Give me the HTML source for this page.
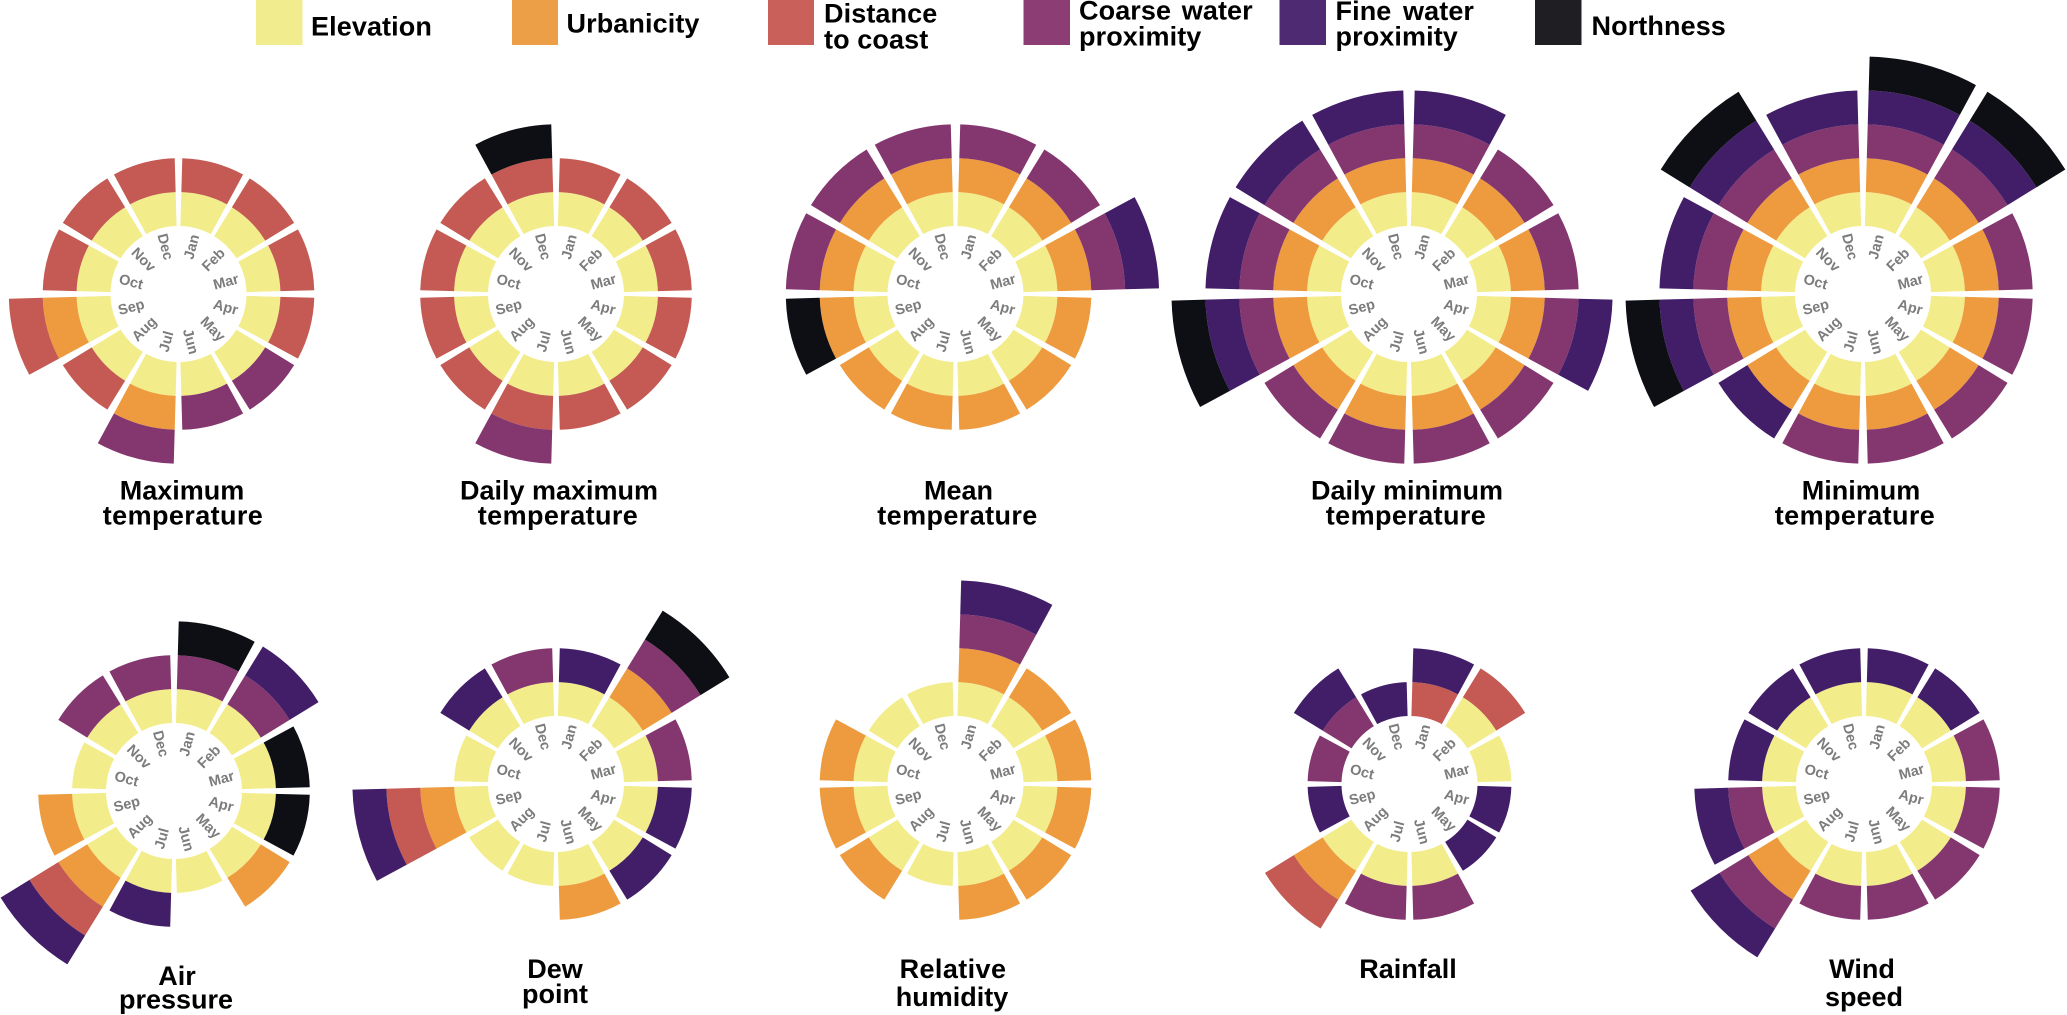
<!DOCTYPE html>
<html lang="en">
<head>
<meta charset="utf-8">
<title>Monthly climate factor rose charts</title>
<style>
  html, body { margin: 0; padding: 0; background: #fff; }
  svg { display: block; }
  text { font-family: "Liberation Sans", Arial, sans-serif; font-weight: 700; }
  .legend-text, .title-text { font-size: 27px; fill: #000; }
  .legend-text { letter-spacing: 0.1px; }
  .wide-line { letter-spacing: 0.4px; }
  .month-text { font-size: 14.5px; fill: #7c7c7c; }
</style>
</head>
<body>
<svg id="figure" xmlns="http://www.w3.org/2000/svg" width="2067" height="1015" viewBox="0 0 2067 1015">
  <rect width="2067" height="1015" fill="#fff"/>
  <g>
    <g>
      <rect x="256" y="0" width="46.5" height="45" fill="#f1ed8e"/>
      <text class="legend-text" x="311" y="35.5">Elevation</text>
    </g>
    <g>
      <rect x="512" y="0" width="46" height="45" fill="#ed9f47"/>
      <text class="legend-text" x="566.5" y="32.5">Urbanicity</text>
    </g>
    <g>
      <rect x="768" y="0" width="46" height="45" fill="#c9605a"/>
      <text class="legend-text" x="824" y="22.5">Distance</text>
      <text class="legend-text" x="824" y="48.5">to coast</text>
    </g>
    <g>
      <rect x="1023.5" y="0" width="46.5" height="45" fill="#8b3d74"/>
      <text class="legend-text" x="1079" y="19.5" style="word-spacing:3px">Coarse water</text>
      <text class="legend-text" x="1079" y="45.5">proximity</text>
    </g>
    <g>
      <rect x="1279.5" y="0" width="46.5" height="45" fill="#4d2a72"/>
      <text class="legend-text" x="1335.5" y="20" style="word-spacing:4px">Fine water</text>
      <text class="legend-text" x="1335.5" y="45.5">proximity</text>
    </g>
    <g>
      <rect x="1535" y="0" width="46.5" height="45" fill="#1f1e23"/>
      <text class="legend-text" x="1591.5" y="35">Northness</text>
    </g>
  </g>
  <g id="panels"></g>
  <g text-anchor="middle">
    <text class="title-text" x="182" y="499.5">Maximum</text>
    <text class="title-text wide-line" x="183" y="524.5">temperature</text>
    <text class="title-text" x="559" y="499.5">Daily maximum</text>
    <text class="title-text wide-line" x="558" y="524.5">temperature</text>
    <text class="title-text" x="958.5" y="499.5">Mean</text>
    <text class="title-text wide-line" x="957.5" y="524.5">temperature</text>
    <text class="title-text" x="1407" y="499.5">Daily minimum</text>
    <text class="title-text wide-line" x="1406" y="524.5">temperature</text>
    <text class="title-text" x="1861" y="499.5">Minimum</text>
    <text class="title-text wide-line" x="1855" y="524.5">temperature</text>
    <text class="title-text" x="177" y="985">Air</text>
    <text class="title-text" x="176" y="1008.5">pressure</text>
    <text class="title-text" x="555" y="978">Dew</text>
    <text class="title-text" x="555" y="1003">point</text>
    <text class="title-text wide-line" x="953" y="978">Relative</text>
    <text class="title-text" x="952" y="1006">humidity</text>
    <text class="title-text" x="1408" y="978">Rainfall</text>
    <text class="title-text" x="1862" y="978">Wind</text>
    <text class="title-text" x="1864" y="1006">speed</text>
  </g>
</svg>
<script>
// Categories
const months = ['Jan','Feb','Mar','Apr','May','Jun','Jul','Aug','Sep','Oct','Nov','Dec'];
const factors = ['elevation','urbanicity','distance-to-coast','coarse-water-proximity','fine-water-proximity','northness'];

// Series values: one row per month, columns in the order of `factors`
const maximumTemperature = [
  [1,0,1,0,0,0],[1,0,1,0,0,0],[1,0,1,0,0,0],[1,0,1,0,0,0],[1,0,0,1,0,0],[1,0,0,1,0,0],
  [1,1,0,1,0,0],[1,0,1,0,0,0],[1,1,1,0,0,0],[1,0,1,0,0,0],[1,0,1,0,0,0],[1,0,1,0,0,0]
];
const dailyMaximumTemperature = [
  [1,0,1,0,0,0],[1,0,1,0,0,0],[1,0,1,0,0,0],[1,0,1,0,0,0],[1,0,1,0,0,0],[1,0,1,0,0,0],
  [1,0,1,1,0,0],[1,0,1,0,0,0],[1,0,1,0,0,0],[1,0,1,0,0,0],[1,0,1,0,0,0],[1,0,1,0,0,1]
];
const meanTemperature = [
  [1,1,0,1,0,0],[1,1,0,1,0,0],[1,1,0,1,1,0],[1,1,0,0,0,0],[1,1,0,0,0,0],[1,1,0,0,0,0],
  [1,1,0,0,0,0],[1,1,0,0,0,0],[1,1,0,0,0,1],[1,1,0,1,0,0],[1,1,0,1,0,0],[1,1,0,1,0,0]
];
const dailyMinimumTemperature = [
  [1,1,0,1,1,0],[1,1,0,1,0,0],[1,1,0,1,0,0],[1,1,0,1,1,0],[1,1,0,1,0,0],[1,1,0,1,0,0],
  [1,1,0,1,0,0],[1,1,0,1,0,0],[1,1,0,1,1,1],[1,1,0,1,1,0],[1,1,0,1,1,0],[1,1,0,1,1,0]
];
const minimumTemperature = [
  [1,1,0,1,1,1],[1,1,0,1,1,1],[1,1,0,1,0,0],[1,1,0,1,0,0],[1,1,0,1,0,0],[1,1,0,1,0,0],
  [1,1,0,1,0,0],[1,1,0,0,1,0],[1,1,0,1,1,1],[1,1,0,1,1,0],[1,1,0,1,1,1],[1,1,0,1,1,0]
];
const airPressure = [
  [1,0,0,1,0,1],[1,0,0,1,1,0],[1,0,0,0,0,1],[1,0,0,0,0,1],[1,1,0,0,0,0],[1,0,0,0,0,0],
  [1,0,0,0,1,0],[1,1,1,0,1,0],[1,1,0,0,0,0],[1,0,0,0,0,0],[1,0,0,1,0,0],[1,0,0,1,0,0]
];
const dewPoint = [
  [1,0,0,0,1,0],[1,1,0,1,0,1],[1,0,0,1,0,0],[1,0,0,0,1,0],[1,0,0,0,1,0],[1,1,0,0,0,0],
  [1,0,0,0,0,0],[1,0,0,0,0,0],[1,1,1,0,1,0],[1,0,0,0,0,0],[1,0,0,0,1,0],[1,0,0,1,0,0]
];
const relativeHumidity = [
  [1,1,0,1,1,0],[1,1,0,0,0,0],[1,1,0,0,0,0],[1,1,0,0,0,0],[1,1,0,0,0,0],[1,1,0,0,0,0],
  [1,0,0,0,0,0],[1,1,0,0,0,0],[1,1,0,0,0,0],[1,1,0,0,0,0],[1,0,0,0,0,0],[1,0,0,0,0,0]
];
const rainfall = [
  [0,0,1,0,1,0],[1,0,1,0,0,0],[1,0,0,0,0,0],[0,0,0,0,1,0],[0,0,0,0,1,0],[1,0,0,1,0,0],
  [1,0,0,1,0,0],[1,1,1,0,0,0],[0,0,0,0,1,0],[0,0,0,1,0,0],[0,0,0,1,1,0],[0,0,0,0,1,0]
];
const windSpeed = [
  [1,0,0,0,1,0],[1,0,0,0,1,0],[1,0,0,1,0,0],[1,0,0,1,0,0],[1,0,0,1,0,0],[1,0,0,1,0,0],
  [1,0,0,1,0,0],[1,1,0,1,1,0],[1,0,0,1,1,0],[1,0,0,0,1,0],[1,0,0,0,1,0],[1,0,0,0,1,0]
];

// Presentation (separate from the data above)
const factorFill = {
  'elevation': '#f2ed8a',
  'urbanicity': '#ee9a3e',
  'distance-to-coast': '#c45a53',
  'coarse-water-proximity': '#84366f',
  'fine-water-proximity': '#421d68',
  'northness': '#0e0f14'
};
const panels = [
  { name: 'maximum-temperature', data: maximumTemperature, cx: 178.5, cy: 294 },
  { name: 'daily-maximum-temperature', data: dailyMaximumTemperature, cx: 556, cy: 294 },
  { name: 'mean-temperature', data: meanTemperature, cx: 955.5, cy: 294 },
  { name: 'daily-minimum-temperature', data: dailyMinimumTemperature, cx: 1409, cy: 294 },
  { name: 'minimum-temperature', data: minimumTemperature, cx: 1863, cy: 294 },
  { name: 'air-pressure', data: airPressure, cx: 174, cy: 791 },
  { name: 'dew-point', data: dewPoint, cx: 556, cy: 784 },
  { name: 'relative-humidity', data: relativeHumidity, cx: 955.5, cy: 784 },
  { name: 'rainfall', data: rainfall, cx: 1409.5, cy: 784 },
  { name: 'wind-speed', data: windSpeed, cx: 1864, cy: 784 }
];

const SVG_NS = 'http://www.w3.org/2000/svg';
const HOLE_RADIUS = 68;
const UNIT_RADIUS = 33.9;
const GAP_DEGREES = 1.6;
const LABEL_RADIUS = 49;

// Axis functions
function radiusScale(value) { return HOLE_RADIUS + value * UNIT_RADIUS; }
function angleScale(monthIndex) { return monthIndex * 360 / months.length; }
function polar(cx, cy, r, deg) {
  const t = deg * Math.PI / 180;
  return [cx + r * Math.sin(t), cy - r * Math.cos(t)];
}
function sectorPath(cx, cy, r0, r1, a0, a1) {
  const p1 = polar(cx, cy, r0, a0), p2 = polar(cx, cy, r1, a0);
  const p3 = polar(cx, cy, r1, a1), p4 = polar(cx, cy, r0, a1);
  const f = n => n.toFixed(2);
  return 'M' + f(p1[0]) + ' ' + f(p1[1]) +
    'L' + f(p2[0]) + ' ' + f(p2[1]) +
    'A' + r1 + ' ' + r1 + ' 0 0 1 ' + f(p3[0]) + ' ' + f(p3[1]) +
    'L' + f(p4[0]) + ' ' + f(p4[1]) +
    'A' + r0 + ' ' + r0 + ' 0 0 0 ' + f(p1[0]) + ' ' + f(p1[1]) + 'Z';
}

const panelsRoot = document.getElementById('panels');
panels.forEach(function (panel) {
  const group = document.createElementNS(SVG_NS, 'g');
  
  
  panelsRoot.appendChild(group);

  months.forEach(function (month, m) {
    const start = angleScale(m), end = angleScale(m + 1);
    let stacked = 0;
    factors.forEach(function (factor, k) {
      const value = panel.data[m][k];
      if (!value) return;
      const seg = document.createElementNS(SVG_NS, 'path');
      seg.setAttribute('d', sectorPath(panel.cx, panel.cy, radiusScale(stacked), radiusScale(stacked + value), start + GAP_DEGREES, end - GAP_DEGREES));
      seg.setAttribute('fill', factorFill[factor]);
      
      
      group.appendChild(seg);
      stacked += value;
    });

    const mid = (start + end) / 2;
    const pos = polar(panel.cx, panel.cy, LABEL_RADIUS, mid);
    const rot = mid < 180 ? mid - 90 : mid - 270;
    const label = document.createElementNS(SVG_NS, 'text');
    label.setAttribute('class', 'month-text');
    label.setAttribute('text-anchor', 'middle');
    label.setAttribute('x', pos[0].toFixed(2));
    label.setAttribute('y', pos[1].toFixed(2));
    label.setAttribute('dy', '0.36em');
    label.setAttribute('transform', 'rotate(' + rot + ' ' + pos[0].toFixed(2) + ' ' + pos[1].toFixed(2) + ')');
    
    
    label.textContent = month;
    group.appendChild(label);
  });
});
</script>
</body>
</html>
